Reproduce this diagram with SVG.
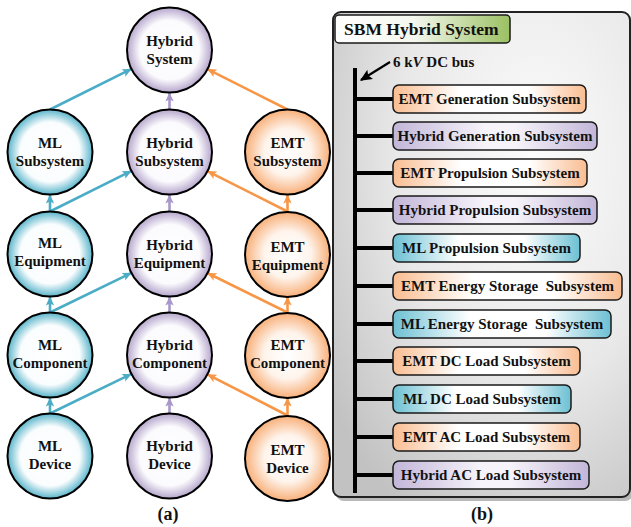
<svg xmlns="http://www.w3.org/2000/svg" width="631" height="527" viewBox="0 0 631 527">
<style>
text{font-family:'Liberation Serif','Times New Roman','DejaVu Serif',serif;font-weight:bold;fill:#111}
.ct{font-size:15px;text-anchor:middle}
.bt{font-size:15px;text-anchor:middle}
.circ{stroke:#000;stroke-width:2}
.box{stroke:#1a1a1a;stroke-width:1.5}
.ml{stroke:#4bacc6;stroke-width:2.6;fill:none}
.hy{stroke:#a898c8;stroke-width:2.6;fill:none}
.em{stroke:#f79646;stroke-width:2.6;fill:none}
.bus{stroke:#000;stroke-width:4;fill:none}
</style>
<defs>
<radialGradient id="gML"><stop offset="0" stop-color="#fff"/><stop offset="0.7" stop-color="#fafdfe"/><stop offset="1" stop-color="#5ab5cb"/></radialGradient>
<radialGradient id="gHY"><stop offset="0" stop-color="#fff"/><stop offset="0.7" stop-color="#fbfafd"/><stop offset="1" stop-color="#b5a6cc"/></radialGradient>
<radialGradient id="gEM"><stop offset="0" stop-color="#fff"/><stop offset="0.55" stop-color="#fef4ec"/><stop offset="1" stop-color="#f8b07a"/></radialGradient>
<linearGradient id="bML" x1="0" x2="1" y1="0" y2="0"><stop offset="0" stop-color="#6cc0d3"/><stop offset="0.35" stop-color="#fff"/><stop offset="0.7" stop-color="#fff"/><stop offset="1" stop-color="#6cc0d3"/></linearGradient>
<linearGradient id="bHY" x1="0" x2="1" y1="0" y2="0"><stop offset="0" stop-color="#c2b6d8"/><stop offset="0.45" stop-color="#f6f3fa"/><stop offset="0.6" stop-color="#f6f3fa"/><stop offset="1" stop-color="#c2b6d8"/></linearGradient>
<linearGradient id="bEM" x1="0" x2="1" y1="0" y2="0"><stop offset="0" stop-color="#f9bd91"/><stop offset="0.35" stop-color="#fff"/><stop offset="0.7" stop-color="#fff"/><stop offset="1" stop-color="#f9bd91"/></linearGradient>
<linearGradient id="hdr" x1="0" x2="1" y1="0" y2="0"><stop offset="0" stop-color="#fff"/><stop offset="0.45" stop-color="#f4f7ee"/><stop offset="1" stop-color="#9bc062"/></linearGradient>
<radialGradient id="pan" cx="0.68" cy="0.3" r="0.85"><stop offset="0" stop-color="#fcfcfc"/><stop offset="0.55" stop-color="#e8e8e8"/><stop offset="1" stop-color="#c2c2c2"/></radialGradient>
<marker id="aML" markerUnits="userSpaceOnUse" markerWidth="10" markerHeight="10" viewBox="0 0 10 10" refX="9" refY="5" orient="auto"><path d="M0,0.8 L9,5 L0,9.2 L2,5 Z" fill="#4bacc6"/></marker>
<marker id="aHY" markerUnits="userSpaceOnUse" markerWidth="10" markerHeight="10" viewBox="0 0 10 10" refX="9" refY="5" orient="auto"><path d="M0,0.8 L9,5 L0,9.2 L2,5 Z" fill="#a898c8"/></marker>
<marker id="aEM" markerUnits="userSpaceOnUse" markerWidth="10" markerHeight="10" viewBox="0 0 10 10" refX="9" refY="5" orient="auto"><path d="M0,0.8 L9,5 L0,9.2 L2,5 Z" fill="#f79646"/></marker>
<marker id="aBK" markerUnits="userSpaceOnUse" markerWidth="12" markerHeight="12" viewBox="0 0 10 10" refX="9" refY="5" orient="auto"><path d="M0,0.5 L10,5 L0,9.5 L2,5 Z" fill="#000"/></marker>
</defs>

<!-- Panel (b) background -->
<g id="panel">
<rect x="336" y="16" width="297" height="485" rx="8" fill="#8a8a8a" opacity="0.6"/>
<rect x="333" y="12" width="297" height="485" rx="8" fill="url(#pan)" stroke="#222" stroke-width="2"/>
</g>

<!-- Connectors -->
<g id="connectors">
<line class="ml" x1="50" y1="109.5" x2="131.5" y2="68.9" marker-end="url(#aML)"/>
<line class="hy" x1="169.5" y1="109.5" x2="169.5" y2="92.5" marker-end="url(#aHY)"/>
<line class="em" x1="287.5" y1="109.5" x2="207.4" y2="69.1" marker-end="url(#aEM)"/>
<line class="ml" x1="50" y1="211.5" x2="50" y2="194.5" marker-end="url(#aML)"/>
<line class="ml" x1="50" y1="211.5" x2="131.5" y2="170.9" marker-end="url(#aML)"/>
<line class="hy" x1="169.5" y1="211.5" x2="169.5" y2="194.5" marker-end="url(#aHY)"/>
<line class="em" x1="287.5" y1="211.5" x2="287.5" y2="194.5" marker-end="url(#aEM)"/>
<line class="em" x1="287.5" y1="211.5" x2="207.4" y2="171.1" marker-end="url(#aEM)"/>
<line class="ml" x1="50" y1="312.5" x2="50" y2="296.5" marker-end="url(#aML)"/>
<line class="ml" x1="50" y1="312.5" x2="131.5" y2="272.8" marker-end="url(#aML)"/>
<line class="hy" x1="169.5" y1="312.5" x2="169.5" y2="296.5" marker-end="url(#aHY)"/>
<line class="em" x1="287.5" y1="312.5" x2="287.5" y2="296.5" marker-end="url(#aEM)"/>
<line class="em" x1="287.5" y1="312.5" x2="207.4" y2="273" marker-end="url(#aEM)"/>
<line class="ml" x1="50" y1="413.5" x2="50" y2="397.5" marker-end="url(#aML)"/>
<line class="ml" x1="50" y1="413.5" x2="131.5" y2="373.9" marker-end="url(#aML)"/>
<line class="hy" x1="169.5" y1="413.5" x2="169.5" y2="397.5" marker-end="url(#aHY)"/>
<line class="em" x1="287.5" y1="415.5" x2="287.5" y2="397.5" marker-end="url(#aEM)"/>
<line class="em" x1="287.5" y1="415.5" x2="207.4" y2="374.3" marker-end="url(#aEM)"/>
<line class="bus" x1="355" y1="68" x2="355" y2="493"/>
<line class="bus" x1="355" y1="99" x2="393" y2="99"/>
<line class="bus" x1="355" y1="136" x2="393" y2="136"/>
<line class="bus" x1="355" y1="173" x2="393" y2="173"/>
<line class="bus" x1="355" y1="210" x2="393" y2="210"/>
<line class="bus" x1="355" y1="248" x2="393" y2="248"/>
<line class="bus" x1="355" y1="286" x2="393" y2="286"/>
<line class="bus" x1="355" y1="324" x2="393" y2="324"/>
<line class="bus" x1="355" y1="361" x2="393" y2="361"/>
<line class="bus" x1="355" y1="399" x2="393" y2="399"/>
<line class="bus" x1="355" y1="437" x2="393" y2="437"/>
<line class="bus" x1="355" y1="475" x2="393" y2="475"/>
<line x1="390" y1="62" x2="361" y2="80" stroke="#000" stroke-width="2.2" marker-end="url(#aBK)"/>
</g>

<!-- Nodes (a) -->
<g id="hybrid-system"><circle class="circ" cx="169.5" cy="50" r="42.5" fill="url(#gHY)"/><text class="ct" x="169.5" y="46">Hybrid</text><text class="ct" x="169.5" y="64">System</text></g>
<g id="ml-subsystem"><circle class="circ" cx="50" cy="152" r="42.5" fill="url(#gML)"/><text class="ct" x="50" y="148">ML</text><text class="ct" x="50" y="166">Subsystem</text></g>
<g id="hybrid-subsystem"><circle class="circ" cx="169.5" cy="152" r="42.5" fill="url(#gHY)"/><text class="ct" x="169.5" y="148">Hybrid</text><text class="ct" x="169.5" y="166">Subsystem</text></g>
<g id="emt-subsystem"><circle class="circ" cx="287.5" cy="152" r="42.5" fill="url(#gEM)"/><text class="ct" x="287.5" y="148">EMT</text><text class="ct" x="287.5" y="166">Subsystem</text></g>
<g id="ml-equipment"><circle class="circ" cx="50" cy="254" r="42.5" fill="url(#gML)"/><text class="ct" x="50" y="248">ML</text><text class="ct" x="50" y="266">Equipment</text></g>
<g id="hybrid-equipment"><circle class="circ" cx="169.5" cy="254" r="42.5" fill="url(#gHY)"/><text class="ct" x="169.5" y="250">Hybrid</text><text class="ct" x="169.5" y="268">Equipment</text></g>
<g id="emt-equipment"><circle class="circ" cx="287.5" cy="254.5" r="42.5" fill="url(#gEM)"/><text class="ct" x="287.5" y="252">EMT</text><text class="ct" x="287.5" y="270">Equipment</text></g>
<g id="ml-component"><circle class="circ" cx="50" cy="355" r="42.5" fill="url(#gML)"/><text class="ct" x="50" y="350">ML</text><text class="ct" x="50" y="368">Component</text></g>
<g id="hybrid-component"><circle class="circ" cx="169.5" cy="355" r="42.5" fill="url(#gHY)"/><text class="ct" x="169.5" y="350">Hybrid</text><text class="ct" x="169.5" y="368">Component</text></g>
<g id="emt-component"><circle class="circ" cx="287.5" cy="355.5" r="42.5" fill="url(#gEM)"/><text class="ct" x="287.5" y="350">EMT</text><text class="ct" x="287.5" y="368">Component</text></g>
<g id="ml-device"><circle class="circ" cx="50" cy="456" r="42.5" fill="url(#gML)"/><text class="ct" x="50" y="451">ML</text><text class="ct" x="50" y="469">Device</text></g>
<g id="hybrid-device"><circle class="circ" cx="169.5" cy="456" r="42.5" fill="url(#gHY)"/><text class="ct" x="169.5" y="451">Hybrid</text><text class="ct" x="169.5" y="469">Device</text></g>
<g id="emt-device"><circle class="circ" cx="287.5" cy="458.5" r="42.5" fill="url(#gEM)"/><text class="ct" x="287.5" y="455">EMT</text><text class="ct" x="287.5" y="473">Device</text></g>

<!-- Panel (b) nodes -->
<g id="sbm-header"><rect x="335" y="15" width="175" height="28" rx="4" fill="url(#hdr)" stroke="#1a1a1a" stroke-width="1.5"/><text x="344" y="35" style="font-size:17.5px">SBM Hybrid System</text></g>
<g id="bus-label"><text x="393" y="67" style="font-size:15px">6 k<tspan font-style="italic">V</tspan> DC bus</text></g>
<g id="emt-gen"><rect class="box" x="393" y="85" width="193" height="28" rx="6" fill="url(#bEM)"/><text class="bt" x="489.5" y="104">EMT Generation Subsystem</text></g>
<g id="hyb-gen"><rect class="box" x="393" y="122" width="204" height="28" rx="6" fill="url(#bHY)"/><text class="bt" x="495" y="141">Hybrid Generation Subsystem</text></g>
<g id="emt-prop"><rect class="box" x="393" y="159" width="194" height="28" rx="6" fill="url(#bEM)"/><text class="bt" x="490" y="178">EMT Propulsion Subsystem</text></g>
<g id="hyb-prop"><rect class="box" x="393" y="196" width="204" height="28" rx="6" fill="url(#bHY)"/><text class="bt" x="495" y="215">Hybrid Propulsion Subsystem</text></g>
<g id="ml-prop"><rect class="box" x="393" y="234" width="187" height="28" rx="6" fill="url(#bML)"/><text class="bt" x="486.5" y="253">ML Propulsion Subsystem</text></g>
<g id="emt-es"><rect class="box" x="393" y="272" width="229" height="28" rx="6" fill="url(#bEM)"/><text class="bt" x="507.5" y="291" xml:space="preserve">EMT Energy Storage  Subsystem</text></g>
<g id="ml-es"><rect class="box" x="393" y="310" width="218" height="28" rx="6" fill="url(#bML)"/><text class="bt" x="502" y="329" xml:space="preserve">ML Energy Storage  Subsystem</text></g>
<g id="emt-dc"><rect class="box" x="393" y="347" width="187" height="28" rx="6" fill="url(#bEM)"/><text class="bt" x="486.5" y="366">EMT DC Load Subsystem</text></g>
<g id="ml-dc"><rect class="box" x="393" y="385" width="178" height="28" rx="6" fill="url(#bML)"/><text class="bt" x="482" y="404">ML DC Load Subsystem</text></g>
<g id="emt-ac"><rect class="box" x="393" y="423" width="187" height="28" rx="6" fill="url(#bEM)"/><text class="bt" x="486.5" y="442">EMT AC Load Subsystem</text></g>
<g id="hyb-ac"><rect class="box" x="393" y="461" width="196" height="28" rx="6" fill="url(#bHY)"/><text class="bt" x="491" y="480">Hybrid AC Load Subsystem</text></g>

<text x="168" y="520" style="font-size:18px;text-anchor:middle">(a)</text>
<text x="482" y="520" style="font-size:18px;text-anchor:middle">(b)</text>
</svg>
